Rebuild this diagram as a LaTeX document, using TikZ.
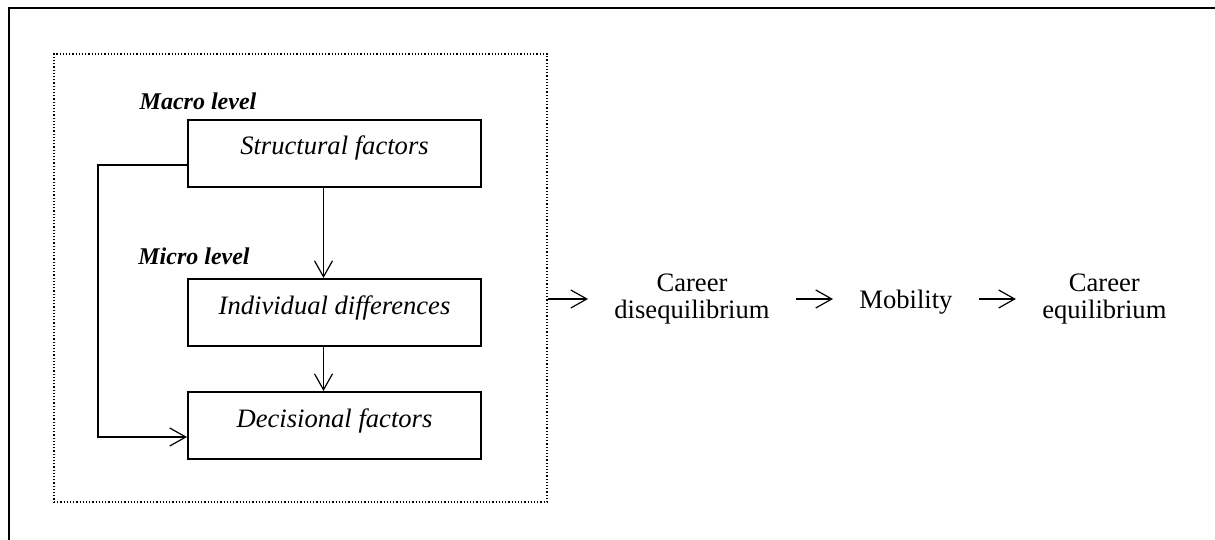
\documentclass[tikz,border=0pt]{standalone}
\usepackage{fontspec}
\setmainfont{Liberation Serif}
\usepackage{tikz}
\usetikzlibrary{positioning,arrows.meta}
\tikzset{
	factorbox/.style={
		rectangle,
		draw,
		line width=1pt,
		inner sep=0pt,
		minimum width=146.5pt,
		text height=17.5pt,
		text depth=16pt,
		font=\fontsize{13.3}{14}\selectfont\itshape
	},
	levellabel/.style={
		inner sep=0pt,
		font=\fontsize{12}{13}\selectfont\bfseries\itshape
	},
	stagelabel/.style={
		inner xsep=13pt,
		inner ysep=0pt,
		align=center,
		font=\fontsize{13.3}{13.5}\selectfont
	},
	flow/.style={
		line width=0.6pt,
		-{Straight Barb[length=8pt,width=9pt]}
	}
}

\begin{document}
\begin{tikzpicture}[x=0.5pt,y=-0.5pt]
\useasboundingbox (0,0) rectangle (1215,540);
\draw[line width=1.2pt] (9,540) -- (9,8) -- (1215,8);
\node (panel) [draw, densely dotted, line width=0.6pt, minimum width=246.5pt, minimum height=224pt] at (300.5,278) {};

\node (macro) [levellabel] at (198,101) {Macro level};
\node (struct) [factorbox] at (334.5,153.5) {Structural factors};
\node (micro) [levellabel] at (194,256) {Micro level};
\node (indiv) [factorbox, below=45pt of struct] {Individual differences};
\node (decis) [factorbox, below=22pt of indiv] {Decisional factors};

\node (diseq) [stagelabel] at (692,299) {Career\\disequilibrium};
\node (mobil) [stagelabel, right=18.5pt of diseq, yshift=-1.5pt] {Mobility};
\node (equil) [stagelabel, right=18.5pt of mobil, yshift=1.5pt] {Career\\equilibrium};

\draw[flow] ([xshift=-5.5pt]struct.south) -- ([xshift=-5.5pt]indiv.north);
\draw[flow] ([xshift=-5.5pt]indiv.south) -- ([xshift=-5.5pt]decis.north);
\draw[flow] ([yshift=-5.75pt]struct.west) -- ++(-44.5pt,0) |- ([yshift=-5.75pt]decis.west);
\draw[flow] (panel.east |- diseq.west) -- (diseq.west);
\draw[flow] (diseq.east) -- (diseq.east -| mobil.west);
\draw[flow] (mobil.east |- equil.west) -- (equil.west);
\end{tikzpicture}
\end{document}
